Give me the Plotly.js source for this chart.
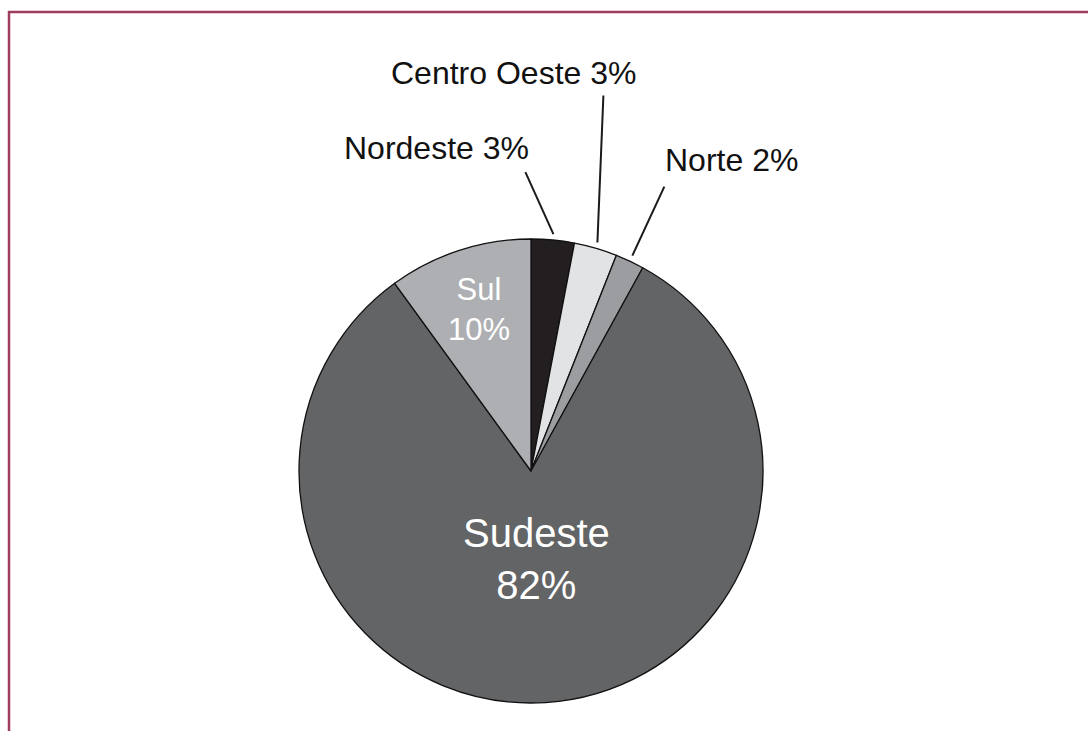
<!DOCTYPE html>
<html><head><meta charset="utf-8">
<script src="https://cdn.plot.ly/plotly-3.0.1.min.js"></script>
<style>html,body{margin:0;padding:0;background:#fff}</style>
</head><body><div id="chart" style="width:1088px;height:731px"></div>
<script>
// ---- data ----
const regions = ['Nordeste', 'Centro Oeste', 'Norte', 'Sudeste', 'Sul'];
const shares = [3, 3, 2, 82, 10];
const sliceColors = ['#231f20', '#e2e3e5', '#9c9da0', '#636466', '#aeafb3'];

// ---- layout config (pixels) ----
const W = 1088, H = 731;
const CX = 531, CY = 471, R = 232;
// label placement per slice
const labelStyle = {
  'Nordeste':     {mode: 'out', edge: 6, lead: [-28, -62], text: [-89, -24]},
  'Centro Oeste': {mode: 'out', edge: 6, lead: [6, -147],  text: [-90, -22]},
  'Norte':        {mode: 'out', edge: 6, lead: [32, -69],   text: [67, -27]},
  'Sudeste':      {mode: 'in', rf: 0.38, size: 40},
  'Sul':          {mode: 'in', rf: 0.73, size: 31}
};
const px = x => x / W;
const py = y => 1 - y / H;

const total = shares.reduce((a, b) => a + b, 0);
const annotations = [];
const shapes = [];
let cum = 0;
shares.forEach((v, i) => {
  const mid = (cum + v / 2) / total * 2 * Math.PI;
  cum += v;
  const name = regions[i];
  const st = labelStyle[name];
  const pct = Math.round(v / total * 100) + '%';
  const s = Math.sin(mid), c = Math.cos(mid);
  if (st.mode === 'in') {
    const x = CX + st.rf * R * s, y = CY - st.rf * R * c;
    annotations.push({x: px(x), y: py(y), xref: 'paper', yref: 'paper', showarrow: false,
      xanchor: 'center', yanchor: 'middle', align: 'center',
      text: name + '<br>' + pct,
      font: {family: '"Liberation Sans", Arial, sans-serif', size: st.size, color: '#ffffff'}});
  } else {
    const ex = CX + (R + st.edge) * s, ey = CY - (R + st.edge) * c;
    const ox = ex + st.lead[0], oy = ey + st.lead[1];
    shapes.push({type: 'line', xref: 'paper', yref: 'paper', x0: px(ex), y0: py(ey), x1: px(ox), y1: py(oy),
      line: {color: '#1a1a1a', width: 2}});
    annotations.push({x: px(ox + st.text[0]), y: py(oy + st.text[1]), xref: 'paper', yref: 'paper', showarrow: false,
      xanchor: 'center', yanchor: 'middle',
      text: name + ' ' + pct,
      font: {family: '"Liberation Sans", Arial, sans-serif', size: 32, color: '#111111'}});
  }
});

// frame lines (left and top)
shapes.push({type: 'line', xref: 'paper', yref: 'paper', x0: px(9), y0: py(11), x1: px(9), y1: py(H + 5), line: {color: '#a03c5e', width: 2.5}});
shapes.push({type: 'line', xref: 'paper', yref: 'paper', x0: px(8), y0: py(12), x1: px(W + 5), y1: py(12), line: {color: '#a03c5e', width: 2.5}});

const trace = {
  type: 'pie',
  labels: regions,
  values: shares,
  sort: false,
  direction: 'clockwise',
  rotation: 0,
  textinfo: 'none',
  hoverinfo: 'label+percent',
  marker: {colors: sliceColors, line: {color: '#111111', width: 1.3}},
  domain: {x: [px(CX - R), px(CX + R)], y: [py(CY + R), py(CY - R)]},
  showlegend: false
};

Plotly.newPlot('chart', [trace], {
  width: W, height: H,
  margin: {l: 0, r: 0, t: 0, b: 0},
  paper_bgcolor: '#ffffff',
  showlegend: false,
  annotations: annotations,
  shapes: shapes
}, {displayModeBar: false, staticPlot: true});
</script></body></html>
